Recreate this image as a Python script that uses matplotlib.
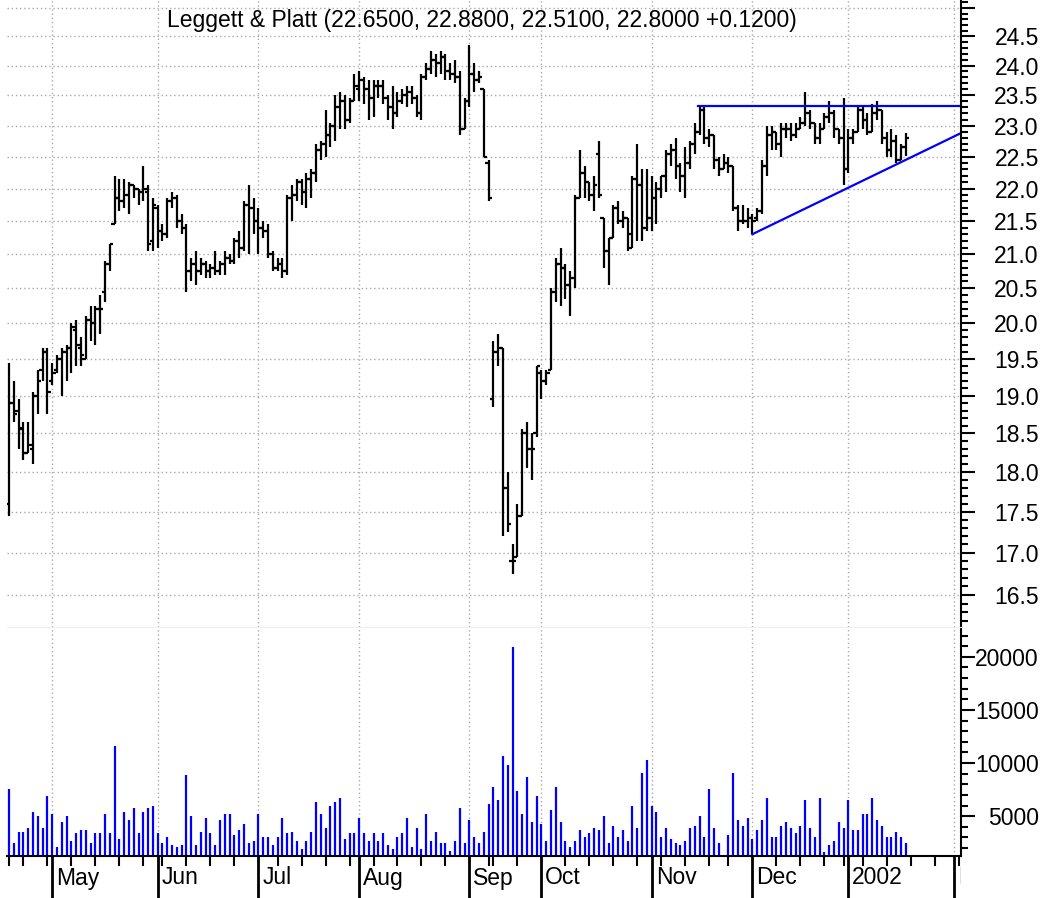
import numpy as np
import pandas as pd
import matplotlib
matplotlib.use('Agg')
import matplotlib.pyplot as plt
from matplotlib.ticker import FixedLocator, FuncFormatter, NullFormatter
from matplotlib.transforms import Bbox, offset_copy

plt.rcParams['font.family'] = ['Liberation Sans', 'DejaVu Sans']

# exchange closed days inside the range (future days are kept as plain weekdays)
holidays = ['2001-05-28', '2001-07-04', '2001-09-03', '2001-09-11', '2001-09-12',
            '2001-09-13', '2001-09-14', '2001-11-22', '2001-12-25', '2002-01-01']
days = pd.bdate_range('2001-04-18', '2002-02-08')
days = days[~days.isin(pd.to_datetime(holidays))]

title = 'Leggett & Platt (22.6500, 22.8800, 22.5100, 22.8000 +0.1200)'

opens = [17.60, 18.90, 18.80, 18.57, 18.25, 18.30, 19.00, 19.35, 19.60, 19.20,
         19.35, 19.50, 19.60, 19.65, 19.90, 19.65, 19.50, 20.05, 20.00, 20.20,
         20.45, 20.85, 21.45, 21.85, 21.80, 21.90, 22.05, 22.00, 21.95, 21.95,
         21.20, 21.70, 21.35, 21.30, 21.80, 21.85, 21.50, 21.40, 20.75, 20.85,
         20.75, 20.85, 20.75, 20.80, 20.75, 20.85, 20.95, 20.90, 21.20, 21.10,
         21.75, 21.70, 21.50, 21.40, 21.35, 21.00, 20.80, 20.85, 20.75, 21.85,
         21.90, 22.10, 21.95, 22.15, 22.25, 22.60, 22.70, 22.85, 23.00, 23.30,
         23.40, 23.10, 23.40, 23.60, 23.75, 23.60, 23.45, 23.65, 23.65, 23.45,
         23.30, 23.20, 23.40, 23.50, 23.55, 23.45, 23.20, 23.80, 23.95, 24.10,
         24.05, 24.15, 23.90, 23.85, 23.80, 22.95, 23.40, 23.85, 23.75, 23.60,
         22.40, 18.95, 19.60, 19.65, 17.80, 16.90, 16.95, 17.45, 18.50, 18.30,
         18.50, 19.30, 19.20, 19.35, 20.45, 20.85, 20.80, 20.55, 20.65, 21.85,
         22.25, 22.10, 21.90, 22.55, 21.55, 21.05, 21.25, 21.70, 21.50, 21.55,
         21.10, 22.15, 22.05, 21.40, 21.55, 21.85, 22.00, 22.20, 22.55, 22.60,
         22.35, 22.20, 22.40, 22.70, 22.90, 23.25, 22.80, 22.85, 22.45, 22.30,
         22.40, 22.35, 21.70, 21.50, 21.50, 21.55, 21.55, 21.65, 22.35, 22.85,
         22.90, 22.70, 22.95, 22.95, 22.85, 22.95, 23.05, 23.20, 23.05, 22.80,
         22.95, 23.15, 23.20, 22.95, 22.80, 22.30, 22.80, 22.90, 23.25, 23.10,
         22.90, 23.20, 23.25, 22.80, 22.60, 22.75, 22.45, 22.65]
highs = [19.45, 19.20, 18.95, 18.65, 18.65, 19.05, 19.35, 19.65, 19.65, 19.45,
         19.55, 19.65, 19.70, 20.00, 20.05, 19.80, 20.10, 20.25, 20.25, 20.40,
         20.90, 21.15, 22.20, 22.15, 22.15, 22.10, 22.05, 22.00, 22.35, 22.05,
         21.85, 21.75, 21.45, 21.85, 21.95, 21.90, 21.60, 21.45, 20.95, 21.05,
         20.95, 20.90, 20.85, 21.05, 20.90, 21.05, 21.00, 21.25, 21.35, 21.80,
         22.05, 21.85, 21.70, 21.50, 21.45, 21.05, 20.95, 20.95, 21.90, 22.05,
         22.15, 22.15, 22.25, 22.30, 22.70, 22.75, 23.25, 23.05, 23.50, 23.55,
         23.50, 23.45, 23.85, 23.90, 23.80, 23.75, 23.75, 23.75, 23.75, 23.50,
         23.65, 23.55, 23.60, 23.65, 23.65, 23.50, 23.85, 24.05, 24.25, 24.20,
         24.25, 24.20, 24.05, 24.10, 23.90, 23.45, 24.35, 24.05, 23.90, 23.60,
         22.45, 19.75, 19.85, 19.65, 18.00, 17.10, 17.60, 18.55, 18.65, 18.50,
         19.40, 19.35, 19.35, 20.50, 20.95, 21.10, 20.85, 20.75, 21.90, 22.60,
         22.35, 22.10, 22.20, 22.75, 21.55, 21.25, 21.75, 21.80, 21.65, 21.55,
         22.20, 22.70, 22.30, 22.30, 22.20, 22.10, 22.20, 22.60, 22.70, 22.80,
         22.40, 22.65, 22.75, 23.05, 23.30, 23.30, 22.95, 22.85, 22.50, 22.55,
         22.50, 22.35, 21.75, 21.75, 21.70, 21.60, 21.70, 22.45, 23.00, 23.00,
         22.90, 23.05, 23.05, 23.05, 23.05, 23.15, 23.55, 23.25, 23.05, 23.05,
         23.20, 23.40, 23.25, 22.95, 23.45, 22.95, 22.95, 23.30, 23.30, 23.20,
         23.35, 23.40, 23.25, 22.90, 22.95, 22.85, 22.70, 22.88]
lows = [17.45, 18.65, 18.30, 18.15, 18.25, 18.10, 18.75, 19.20, 18.75, 19.15,
        19.30, 19.00, 19.20, 19.30, 19.40, 19.40, 19.50, 19.75, 19.70, 19.85,
        20.30, 20.75, 21.45, 21.65, 21.70, 21.60, 21.85, 21.75, 21.80, 21.05,
        21.05, 21.10, 21.20, 21.25, 21.70, 21.40, 21.30, 20.45, 20.60, 20.55,
        20.70, 20.65, 20.65, 20.70, 20.70, 20.70, 20.85, 20.85, 20.95, 21.05,
        21.00, 21.30, 21.00, 21.25, 20.95, 20.75, 20.75, 20.65, 20.70, 21.50,
        21.80, 21.75, 21.70, 21.85, 22.10, 22.45, 22.50, 22.65, 22.75, 22.95,
        22.95, 23.05, 23.40, 23.40, 23.35, 23.10, 23.15, 23.45, 23.35, 23.10,
        22.95, 23.15, 23.35, 23.30, 23.35, 23.15, 23.10, 23.75, 23.85, 23.80,
        23.85, 23.75, 23.75, 23.70, 22.85, 22.95, 23.30, 23.55, 23.70, 22.50,
        21.80, 18.85, 19.40, 17.20, 17.25, 16.75, 16.95, 17.45, 18.05, 17.90,
        18.45, 18.95, 19.15, 19.35, 20.30, 20.25, 20.35, 20.10, 20.50, 21.85,
        21.85, 21.80, 21.65, 21.85, 20.80, 20.55, 21.25, 21.45, 21.40, 21.05,
        21.10, 21.20, 21.20, 21.35, 21.35, 21.45, 21.85, 21.95, 22.35, 22.15,
        21.95, 21.85, 22.30, 22.55, 22.85, 22.70, 22.65, 22.30, 22.20, 22.30,
        22.25, 21.65, 21.35, 21.45, 21.40, 21.30, 21.50, 21.60, 22.20, 22.60,
        22.60, 22.50, 22.80, 22.75, 22.80, 22.95, 23.00, 22.95, 22.70, 22.70,
        22.95, 23.05, 22.80, 22.70, 22.05, 22.25, 22.70, 22.90, 22.95, 22.85,
        22.90, 23.10, 22.70, 22.50, 22.50, 22.40, 22.45, 22.51]
closes = [18.90, 18.75, 18.55, 18.25, 18.35, 19.00, 19.20, 19.60, 19.05, 19.30,
          19.50, 19.60, 19.65, 19.95, 19.70, 19.55, 20.05, 20.00, 20.20, 20.20,
          20.85, 21.15, 21.85, 21.80, 21.90, 22.05, 22.00, 21.95, 22.00, 21.15,
          21.75, 21.35, 21.30, 21.80, 21.85, 21.50, 21.40, 20.75, 20.85, 20.75,
          20.85, 20.75, 20.80, 20.75, 20.85, 20.95, 20.90, 21.20, 21.10, 21.75,
          21.70, 21.50, 21.40, 21.35, 21.00, 20.80, 20.85, 20.75, 21.85, 21.90,
          22.10, 21.95, 22.15, 22.25, 22.60, 22.70, 22.85, 23.00, 23.30, 23.40,
          23.10, 23.40, 23.65, 23.75, 23.60, 23.45, 23.65, 23.65, 23.45, 23.30,
          23.20, 23.40, 23.50, 23.55, 23.45, 23.20, 23.80, 23.95, 24.10, 24.05,
          24.15, 23.90, 23.85, 23.80, 22.95, 23.40, 23.85, 23.75, 23.80, 22.50,
          21.85, 19.60, 19.65, 17.80, 17.35, 16.90, 17.45, 18.50, 18.30, 18.30,
          19.40, 19.20, 19.30, 20.45, 20.85, 20.80, 20.55, 20.65, 21.85, 22.25,
          22.10, 21.90, 22.05, 21.90, 21.05, 21.25, 21.70, 21.50, 21.55, 21.30,
          22.15, 22.05, 21.40, 21.55, 21.85, 22.00, 22.20, 22.55, 22.60, 22.35,
          22.20, 22.40, 22.70, 22.90, 23.25, 22.80, 22.85, 22.45, 22.30, 22.40,
          22.35, 21.70, 21.50, 21.50, 21.55, 21.50, 21.65, 22.35, 22.85, 22.90,
          22.70, 22.95, 22.95, 22.85, 22.95, 23.05, 23.20, 23.05, 22.80, 22.95,
          23.15, 23.20, 22.95, 22.80, 22.30, 22.80, 22.90, 23.25, 23.10, 22.90,
          23.20, 23.25, 22.80, 22.60, 22.75, 22.45, 22.65, 22.80]
volumes = [7600, 2470, 3540, 3540, 3920, 5380, 5030, 3920, 6870, 5190,
           2060, 4490, 5030, 2630, 3390, 3730, 3730, 2470, 3390, 3390,
           5220, 3390, 11610, 2820, 5380, 4650, 5760, 3390, 5380, 5760,
           5950, 3390, 2470, 3010, 2280, 2090, 2280, 8860, 5030, 2280,
           3540, 4840, 3390, 2280, 4650, 5190, 5190, 3200, 3730, 4300,
           2470, 2630, 5190, 3010, 3010, 2280, 3010, 4840, 3390, 3540,
           2630, 1900, 2630, 3540, 6300, 5190, 3920, 5950, 6300, 6680,
           2820, 3390, 3390, 4840, 3390, 2630, 3390, 2630, 3390, 2280,
           1900, 3010, 3390, 4840, 2090, 3920, 1900, 5190, 2630, 3540,
           2470, 2470, 1740, 2630, 5760, 2470, 4650, 3010, 2470, 3540,
           6140, 7790, 6490, 10700, 9780, 20950, 7400, 5190, 8700, 4490,
           6870, 4300, 2630, 5570, 7750, 4490, 2630, 2090, 2630, 3730,
           3010, 3390, 3920, 3730, 5030, 2470, 4110, 3010, 3730, 2630,
           5950, 3920, 9050, 10320, 5950, 5380, 3010, 3920, 2820, 2470,
           2280, 2630, 3920, 4110, 5030, 3010, 7600, 3920, 2470, 1170,
           3200, 9050, 4650, 4110, 4840, 2820, 3730, 4650, 6680, 3010,
           3010, 4110, 4490, 3920, 3390, 4110, 6490, 3920, 3010, 6680,
           1580, 2280, 2630, 4490, 3920, 6490, 3730, 3730, 5220, 5220,
           6680, 4650, 4110, 3010, 3010, 3540, 3010, 2470]

# trend lines drawn on the chart (trading-day index, price)
resist_x = [143.6, 199.0]
resist_y = [23.33, 23.33]
support_x = [155.0, 198.5]
support_y = [21.30, 22.88]

n = len(closes)
x = np.arange(n)
month_labels = ['May', 'Jun', 'Jul', 'Aug', 'Sep', 'Oct', 'Nov', 'Dec', '2002', 'Feb']

ser = pd.Series(np.arange(len(days)), index=days)
month_pos = ser.groupby([days.year, days.month]).first().values[1:]
week_pos = ser.groupby([days.isocalendar().year.values, days.isocalendar().week.values]).first().values

W, H = 1061, 898
fs = 16.5
fig = plt.figure(figsize=(W / 100, H / 100), dpi=100)


def box(l, t, r, b):
    return [l / W, 1 - b / H, (r - l) / W, (b - t) / H]


ax = fig.add_axes(box(7, 0, 961, 627))
axv = fig.add_axes(box(7, 627, 961, 856), sharex=ax)

grid_kw = dict(color='#aaaaaa', linestyle=(0, (1, 2)), linewidth=1.0)

# price bars
hw = 0.7
ax.vlines(x, lows, highs, color='black', lw=1.6)
ax.hlines(opens, x - hw, x, color='black', lw=1.6)
ax.hlines(closes, x, x + hw, color='black', lw=1.6)
ax.plot(resist_x, resist_y, color='#0000ff', lw=1.6)
ax.plot(support_x, support_y, color='#0000ff', lw=1.6)

ax.set_yscale('log')
ax.set_ylim(16.13, 25.14)
ax.set_xlim(-0.42, 198.5)
ax.yaxis.tick_right()
ax.yaxis.set_major_locator(FixedLocator(np.arange(16.5, 25.01, 0.5)))
ax.yaxis.set_minor_locator(FixedLocator(np.arange(16.2, 25.15, 0.1)))
ax.yaxis.set_major_formatter(FuncFormatter(lambda v, p: '' if v > 24.9 else f'{v:.1f}'))
ax.yaxis.set_minor_formatter(NullFormatter())
ax.tick_params(axis='y', which='major', length=10, width=1.5, pad=46, labelsize=fs)
ax.tick_params(axis='y', which='minor', length=5, width=1.5)
ax.tick_params(axis='x', which='both', bottom=False, labelbottom=False)
ax.xaxis.set_major_locator(FixedLocator(month_pos))
ax.grid(True, which='major', **grid_kw)
for s in ['top', 'left', 'bottom']:
    ax.spines[s].set_visible(False)
ax.spines['right'].set_linewidth(1.5)

# volume
axv.vlines(x, 0, volumes, color='#0000ff', lw=1.6)
axv.set_ylim(1250, 22800)
axv.yaxis.tick_right()
axv.yaxis.set_major_locator(FixedLocator([5000, 10000, 15000, 20000]))
axv.yaxis.set_minor_locator(FixedLocator(np.arange(2000, 23000, 1000)))
axv.yaxis.set_minor_formatter(NullFormatter())
axv.tick_params(axis='y', which='major', length=10, width=1.5, pad=46, labelsize=fs)
axv.tick_params(axis='y', which='minor', length=5, width=1.5)
for a in (ax, axv):
    for lab in a.get_yticklabels():
        lab.set_horizontalalignment('right')
axv.xaxis.set_major_locator(FixedLocator(month_pos))
axv.xaxis.set_minor_locator(FixedLocator(week_pos))
axv.xaxis.set_major_formatter(NullFormatter())
axv.tick_params(axis='x', which='major', length=32, width=2)
axv.tick_params(axis='x', which='minor', length=7, width=1.5)
axv.grid(True, axis='x', which='major', **grid_kw)
axv.spines['left'].set_visible(False)
axv.spines['top'].set_color('#eeeeee')
axv.spines['bottom'].set_linewidth(1.5)
axv.spines['right'].set_linewidth(1.5)

clip = Bbox.from_extents(0, 0, 961, H)
trans = offset_copy(axv.get_xaxis_transform(), fig=fig, x=4, y=-22, units='dots')
for pos, lab in zip(month_pos, month_labels):
    t = axv.text(pos, 0, lab, transform=trans, ha='left', va='center', fontsize=fs, clip_on=True)
    t.set_clip_box(clip)

fig.text(482 / W, 1 - 21 / H, title, ha='center', va='center', fontsize=fs)

fig.savefig('out.png', dpi=100)
